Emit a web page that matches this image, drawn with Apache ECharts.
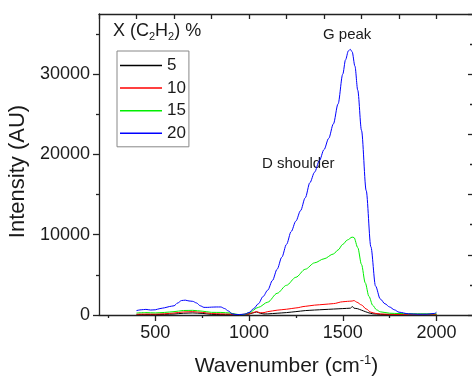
<!DOCTYPE html>
<html><head><meta charset="utf-8">
<script src="https://cdn.jsdelivr.net/npm/echarts@6/dist/echarts.min.js"></script>
<style>html,body{margin:0;padding:0;background:#fff}#c{width:472px;height:377px}</style>
</head><body><div id="c"></div>
<script>
const FONT = 'Arial, "Liberation Sans", Helvetica, sans-serif';
const TXT = '#1a1a1a';
const seriesNames = ['5', '10', '15', '20'];
const seriesColors = ['#000000', '#ff0000', '#00ee00', '#0000ff'];

const x5 = [400, 450, 500, 550, 600, 650, 700, 750, 800, 850, 900, 950, 1000, 1020, 1040, 1060, 1080, 1100, 1150, 1200, 1250, 1300, 1350, 1400, 1450, 1500, 1540, 1552, 1560, 1580, 1600, 1620, 1640, 1660, 1700, 1750, 1800, 1900, 2000];
const y5 = [50, 60, 50, 80, 120, 220, 260, 200, 80, 50, 40, 20, 120, 250, 380, 220, 130, 140, 220, 300, 420, 550, 620, 680, 740, 800, 850, 1050, 850, 780, 600, 420, 260, 150, 80, 50, 40, 40, 50];

const x10 = [400, 450, 500, 550, 600, 650, 700, 750, 800, 850, 900, 950, 1000, 1020, 1040, 1060, 1080, 1100, 1150, 1200, 1250, 1300, 1350, 1400, 1450, 1500, 1525, 1550, 1560, 1575, 1600, 1625, 1650, 1675, 1700, 1750, 1800, 1900, 2000];
const y10 = [100, 120, 110, 150, 250, 380, 420, 330, 180, 140, 120, 40, 150, 300, 420, 280, 300, 420, 600, 720, 880, 1080, 1230, 1320, 1420, 1650, 1700, 1740, 1800, 1600, 1250, 750, 350, 200, 130, 90, 80, 80, 80];

const x15 = [400, 450, 500, 550, 600, 650, 700, 750, 800, 850, 900, 925, 950, 975, 1000, 1050, 1100, 1150, 1200, 1250, 1300, 1350, 1400, 1450, 1475, 1500, 1525, 1550, 1560, 1580, 1600, 1620, 1640, 1660, 1680, 1700, 1750, 1800, 1900, 2000];
const y15 = [250, 300, 260, 320, 420, 560, 580, 480, 330, 320, 250, 120, 40, 80, 280, 950, 1600, 2700, 3700, 4700, 5700, 6500, 7000, 7600, 8100, 8800, 9350, 9700, 9650, 8400, 6300, 4000, 2300, 1200, 650, 400, 220, 180, 150, 150];

const x20 = [400, 425, 450, 475, 500, 525, 550, 575, 600, 620, 640, 660, 680, 700, 720, 740, 760, 780, 800, 825, 850, 870, 890, 910, 930, 950, 975, 1000, 1025, 1050, 1075, 1100, 1125, 1150, 1175, 1200, 1225, 1250, 1275, 1300, 1325, 1350, 1375, 1400, 1425, 1450, 1475, 1500, 1515, 1530, 1540, 1550, 1565, 1580, 1600, 1625, 1650, 1675, 1700, 1725, 1750, 1775, 1800, 1850, 1900, 1950, 1990, 2000];
const y20 = [550, 650, 700, 620, 650, 800, 900, 1050, 1150, 1500, 1800, 1850, 1750, 1700, 1500, 1150, 950, 950, 980, 1000, 1000, 800, 500, 150, 60, 60, 100, 300, 800, 1400, 2300, 3100, 4300, 5700, 7200, 8800, 10400, 11700, 13000, 14600, 16500, 17800, 19200, 20600, 22000, 23800, 26300, 30000, 31800, 32900, 33100, 32800, 31000, 28000, 23000, 15500, 8500, 3600, 2000, 1400, 1000, 650, 350, 150, 100, 100, 200, 350];

const xMajorTicks = [500, 1000, 1500, 2000];
const xMinorTicks = [250, 750, 1250, 1750];
const yMajorTicks = [0, 10000, 20000, 30000];
const yMinorTicks = [5000, 15000, 25000, 35000];

const xs = [x5, x10, x15, x20];
const ys = [y5, y10, y15, y20];
function pairs(a, b) { return a.map((v, i) => [v, b[i]]); }
const plain = v => String(v);

const AX = { color: '#222', width: 1.3 };
const chart = echarts.init(document.getElementById('c'), null, { renderer: 'canvas' });
chart.setOption({
  animation: false,
  backgroundColor: '#fff',
  grid: { left: 99, top: 14, right: -2, bottom: 62, containLabel: false, outerBoundsMode: 'none' },
  title: {
    text: 'X (C{s|2}H{s|2}) %', left: 113, top: 20, padding: 0,
    textStyle: { fontSize: 18, fontWeight: 'normal', color: TXT, fontFamily: FONT,
      rich: { s: { fontSize: 11, padding: [11, 0, 0, 0], color: TXT, fontFamily: FONT } } }
  },
  legend: {
    orient: 'vertical', left: 117, top: 51, padding: [6, 3, 5, 3], itemGap: 5.6,
    itemWidth: 42, itemHeight: 1.5, icon: 'rect', borderColor: '#888', borderWidth: 1,
    textStyle: { fontSize: 17, color: TXT, fontFamily: FONT }, data: seriesNames
  },
  xAxis: [
    { type: 'value', position: 'bottom', min: 200, max: 2200,
      axisLine: { show: true, onZero: false, lineStyle: AX },
      axisTick: { show: true, customValues: xMajorTicks, length: 6, lineStyle: AX },
      axisLabel: { customValues: xMajorTicks, formatter: plain, fontSize: 18, color: TXT, fontFamily: FONT, margin: 9 },
      splitLine: { show: false },
      name: 'Wavenumber (cm{sup|-1})', nameLocation: 'middle', nameGap: 39,
      nameTextStyle: { fontSize: 21, color: TXT, fontFamily: FONT,
        rich: { sup: { fontSize: 13, padding: [0, 0, 11, 0], color: TXT, fontFamily: FONT } } } },
    { type: 'value', position: 'bottom', min: 200, max: 2200,
      axisLine: { show: false, onZero: false },
      axisTick: { show: true, customValues: xMinorTicks, length: 3, lineStyle: AX },
      axisLabel: { show: false }, splitLine: { show: false } },
    { type: 'value', position: 'top', min: 200, max: 2200, interval: 200,
      axisLine: { show: true, onZero: false, lineStyle: AX },
      axisTick: { show: true, inside: true, length: 5, lineStyle: AX },
      axisLabel: { show: false }, splitLine: { show: false } }
  ],
  yAxis: [
    { type: 'value', position: 'left', min: 0, max: 37500,
      axisLine: { show: true, onZero: false, lineStyle: AX },
      axisTick: { show: true, customValues: yMajorTicks, length: 6, lineStyle: AX },
      axisLabel: { customValues: yMajorTicks, formatter: plain, fontSize: 18, color: TXT, fontFamily: FONT, margin: 9 },
      splitLine: { show: false },
      name: 'Intensity (AU)', nameLocation: 'middle', nameGap: 63,
      nameTextStyle: { fontSize: 22, color: TXT, fontFamily: FONT, padding: [0, 14, 0, 0] } },
    { type: 'value', position: 'left', min: 0, max: 37500,
      axisLine: { show: false, onZero: false },
      axisTick: { show: true, customValues: yMinorTicks, length: 3, lineStyle: AX },
      axisLabel: { show: false }, splitLine: { show: false } },
    { type: 'value', position: 'right', min: 0, max: 37500, interval: 7500,
      axisLine: { show: true, onZero: false, lineStyle: AX },
      axisTick: { show: true, inside: true, length: 6, lineStyle: AX },
      minorTick: { show: true, splitNumber: 2, length: 4, lineStyle: AX },
      axisLabel: { show: false }, splitLine: { show: false } }
  ],
  graphic: [
    { type: 'text', left: 323, top: 27, style: { text: 'G peak', font: '15px ' + FONT, fill: TXT } },
    { type: 'text', left: 262, top: 156, style: { text: 'D shoulder', font: '15px ' + FONT, fill: TXT } }
  ],
  series: seriesNames.map((n, i) => ({
    name: n, type: 'line', xAxisIndex: 0, yAxisIndex: 0,
    data: pairs(xs[i], ys[i]), showSymbol: false, symbol: 'none',
    smooth: 0.3, smoothMonotone: 'x',
    color: seriesColors[i], lineStyle: { color: seriesColors[i], width: 1 },
    z: 2 + i
  }))
});
</script></body></html>
